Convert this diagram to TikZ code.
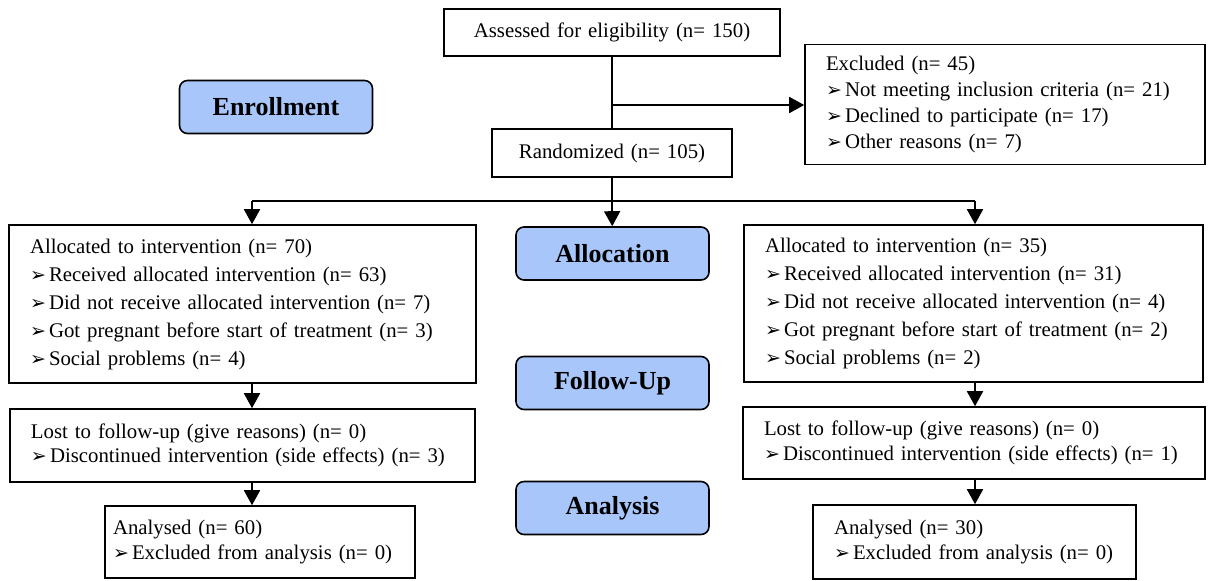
\documentclass[tikz,border=0pt]{standalone}
\usepackage{fontspec}
\setmainfont{Liberation Serif}
\newfontfamily\dingfont{DejaVu Sans}
\usetikzlibrary{arrows.meta,positioning}
\definecolor{stageblue}{RGB}{168,198,250}
\tikzstyle{box} = [draw,line width=0.8pt,rectangle,inner xsep=10.5pt,inner ysep=0pt,align=left,font=\fontsize{10.4}{13}\selectfont]
\tikzstyle{stage} = [draw,line width=0.8pt,rounded corners=4pt,fill=stageblue,font=\fontsize{13}{13}\selectfont\bfseries,minimum width=96.5pt,minimum height=26.5pt]
\tikzstyle{flow} = [-{Triangle[length=7.5pt,width=8pt]},line width=0.9pt]
\tikzstyle{link} = [-,line width=0.9pt]
\newcommand{\bull}{\makebox[9.5pt][l]{\dingfont\fontsize{9.5}{9.5}\selectfont ➢}}

\begin{document}
\begin{tikzpicture}[x=0.5pt,y=-0.5pt]
  \useasboundingbox (0,0) rectangle (1208,580);
  % stages
  \node[stage] (enroll) at (276,107) {Enrollment};
  \node[stage] (allocation) at (612.5,253.5) {Allocation};
  \node[stage] (followup) at (612.5,383) {Follow-Up};
  \node[stage] (analysis) at (612.5,508) {Analysis};
  % enrollment
  \node[box,align=center,text width=147pt,minimum height=23.5pt] (assess) at (612,32.5) {Assessed for eligibility (n= 150)};
  \node[box,align=center,text width=99pt,minimum height=24pt] (rand) at (612,153) {Randomized (n= 105)};
  \node[box,text width=179pt,minimum height=60pt] (excl) at (1005,104.5)
    {Excluded (n= 45)\\ \bull Not meeting inclusion criteria (n= 21)\\ \bull Declined to participate (n= 17)\\ \bull Other reasons (n= 7)};
  % allocation
  \node[box,font=\fontsize{10.4}{14}\selectfont,text width=212.5pt,minimum height=79pt] (allocL) at (242.5,304)
    {Allocated to intervention (n= 70)\\ \bull Received allocated intervention (n= 63)\\ \bull Did not receive allocated intervention (n= 7)\\ \bull Got pregnant before start of treatment (n= 3)\\ \bull Social problems (n= 4)};
  \node[box,font=\fontsize{10.4}{14}\selectfont,text width=208.5pt,minimum height=78.5pt] (allocR) at (973.5,303.5)
    {Allocated to intervention (n= 35)\\ \bull Received allocated intervention (n= 31)\\ \bull Did not receive allocated intervention (n= 4)\\ \bull Got pregnant before start of treatment (n= 2)\\ \bull Social problems (n= 2)};
  % follow-up
  \node[box,font=\fontsize{10.4}{12}\selectfont,text width=211.5pt,minimum height=36.5pt] (lostL) at (242.5,445.5)
    {Lost to follow-up (give reasons) (n= 0)\\ \bull Discontinued intervention (side effects) (n= 3)};
  \node[box,font=\fontsize{10.4}{12.5}\selectfont,text width=210pt,minimum height=36pt] (lostR) at (974,443)
    {Lost to follow-up (give reasons) (n= 0)\\ \bull Discontinued intervention (side effects) (n= 1)};
  % analysis
  \node[box,font=\fontsize{10.4}{12.5}\selectfont,inner xsep=4pt,text width=147pt,minimum height=36pt] (anaL) at (260,542)
    {Analysed (n= 60)\\ \bull Excluded from analysis (n= 0)};
  \node[box,font=\fontsize{10.4}{12.5}\selectfont,text width=140.5pt,minimum height=37pt] (anaR) at (974.5,542)
    {Analysed (n= 30)\\ \bull Excluded from analysis (n= 0)};
  % connectors
  \coordinate (split) at (612,105);
  \coordinate (fork) at (612,201);
  \coordinate (forkL) at (252,201);
  \coordinate (forkR) at (975,201);
  \draw[link] (assess) -- (rand);
  \draw[flow] (split) -- (split -| excl.west);
  \draw[link] (rand) -- (fork);
  \draw[link] (forkL) -- (forkR);
  \draw[flow] (fork) -- (allocation);
  \draw[flow] (forkL) -- (forkL |- allocL.north);
  \draw[flow] (forkR) -- (forkR |- allocR.north);
  \draw[flow] (allocL.south -| forkL) -- (lostL.north -| forkL);
  \draw[flow] (allocR.south -| forkR) -- (lostR.north -| forkR);
  \draw[flow] (lostL.south -| forkL) -- (anaL.north -| forkL);
  \draw[flow] (lostR.south -| forkR) -- (anaR.north -| forkR);
\end{tikzpicture}
\end{document}
